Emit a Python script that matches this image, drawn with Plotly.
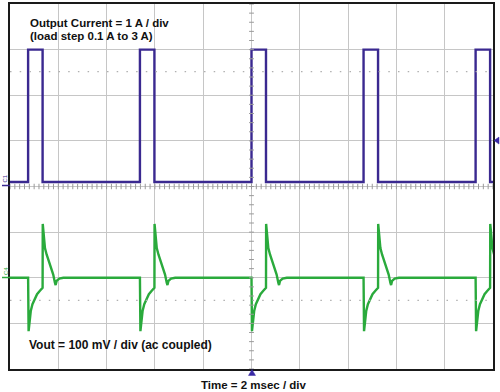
import plotly.graph_objects as go

# ---------------- data ----------------
# time axis: ms relative to trigger, 2 ms/div, 10 divisions
rise_ms = [-9.25, -4.62, 0.0, 4.64, 9.28]      # load step up (0.1 A -> 3 A)
fall_ms = [-8.65, -4.02, 0.60, 5.24, 9.88]     # load release (3 A -> 0.1 A)
i_low_a = 0.1
i_high_a = 3.0

# Vout transient after load step up: ms after rising edge, mV
step_up_dt = [0.0, 0.02, 0.07, 0.11, 0.18, 0.28, 0.37, 0.48, 0.58]
step_up_mv = [0, -117, -88, -73, -58, -45, -36, -29, -23]
# Vout transient after load release: ms after falling edge, mV
release_dt = [0.0, 0.006, 0.055, 0.097, 0.166, 0.235, 0.30, 0.373, 0.44, 0.51, 0.54, 0.58, 0.69, 0.86]
release_mv = [-22, 118, 80, 65, 51, 40, 33, 22, 7, -11, -16, -7, -2, 0]

# ---------------- build traces ----------------
t_cur, i_cur = [-10.0], [i_low_a]
for r, f in zip(rise_ms, fall_ms):
    t_cur += [r, r, f, f]
    i_cur += [i_low_a, i_high_a, i_high_a, i_low_a]
t_cur.append(10.0)
i_cur.append(i_low_a)

t_v, v_mv = [-10.0], [0]
for r, f in zip(rise_ms, fall_ms):
    for dt, mv in zip(step_up_dt, step_up_mv):
        t_v.append(r + dt)
        v_mv.append(mv)
    for dt, mv in zip(release_dt, release_mv):
        t_v.append(f + dt)
        v_mv.append(mv)

PURPLE = "#3a2990"
GREEN = "#2aaa3c"
GRID = "#c6c6c6"

fig = go.Figure()
fig.add_trace(go.Scatter(x=t_cur, y=i_cur, mode="lines",
                         line=dict(color=PURPLE, width=2.4), yaxis="y",
                         showlegend=False, hoverinfo="skip"))
fig.add_trace(go.Scatter(x=t_v, y=v_mv, mode="lines",
                         line=dict(color=GREEN, width=2.4), yaxis="y2",
                         showlegend=False, hoverinfo="skip"))

# pixel helpers for layout decorations (plot area: x 10..493, y 2..369)
L, R, T, B = 10, 493, 2, 369
def px(x):
    return (x - L) / (R - L)
def py(y):
    return (B - y) / (B - T)

shapes = []
# minor ticks on centre lines
k = -50
while k <= 50:
    xm = k * 0.2
    shapes.append(dict(type="line", xref="x", yref="y", x0=xm, x1=xm, y0=-0.06, y1=0.06,
                       line=dict(color="#9a9a9a", width=1)))
    k += 1
k = -20
while k <= 20:
    ym = k * 0.2
    shapes.append(dict(type="line", xref="x", yref="y", x0=-0.1, x1=0.1, y0=ym, y1=ym,
                       line=dict(color="#9a9a9a", width=1)))
    k += 1
# dotted cursor lines
for yy in (70, 300):
    shapes.append(dict(type="line", xref="paper", yref="paper", x0=0, x1=1, y0=py(yy), y1=py(yy),
                       line=dict(color="#b0b0b0", width=1.3, dash="1.5px,8.2px")))
# trigger markers
def tri(pts, color):
    d = "M " + " L ".join(f"{px(a):.5f},{py(b):.5f}" for a, b in pts) + " Z"
    return dict(type="path", xref="paper", yref="paper", path=d,
                fillcolor=color, line=dict(color=color, width=0.5))
shapes.append(tri([(252, 369.5), (248.5, 375.5), (255.5, 375.5)], "#3a2aa6"))
shapes.append(tri([(494, 139.3), (499, 135.8), (499, 142.8)], "#3a2aa6"))
# channel ground markers
shapes.append(dict(type="line", xref="paper", yref="paper", x0=px(2), x1=px(10), y0=py(184.5), y1=py(184.5),
                   line=dict(color=PURPLE, width=1.5)))
shapes.append(dict(type="line", xref="paper", yref="paper", x0=px(2), x1=px(10), y0=py(277), y1=py(277),
                   line=dict(color=GREEN, width=1.5)))

FONT = "Liberation Sans, Arial, sans-serif"
def ann(text, x, y, xanchor="left", size=11.5, color="#111111", angle=0):
    return dict(text=text, xref="paper", yref="paper", x=px(x), y=py(y),
                xanchor=xanchor, yanchor="middle", showarrow=False, textangle=angle,
                font=dict(family=FONT, size=size, color=color))

annotations = [
    ann("<b>Output Current = 1 A / div</b>", 28, 21.0),
    ann("<b>(load step 0.1 A to 3 A)</b>", 28, 34.5),
    ann("<b>Vout = 100 mV / div (ac coupled)</b>", 27, 345, size=12),
    ann("<b>Time = 2 msec / div</b>", 254, 385, xanchor="center"),
    ann("C1", 5.5, 178, xanchor="center", size=6, color=PURPLE, angle=-90),
    ann("C4", 5.5, 271, xanchor="center", size=6, color=GREEN, angle=-90),
]

fig.update_layout(
    width=500, height=392,
    margin=dict(l=L, r=500 - R, t=T, b=392 - B),
    paper_bgcolor="white", plot_bgcolor="white",
    xaxis=dict(range=[-10, 10], dtick=2, tick0=-10, showgrid=True, gridcolor=GRID, gridwidth=1,
               zeroline=False, showticklabels=False, ticks="",
               showline=True, mirror=True, linecolor="#1a1a1a", linewidth=1.5),
    yaxis=dict(range=[-4, 4], dtick=1, tick0=-4, showgrid=True, gridcolor=GRID, gridwidth=1,
               zeroline=False, showticklabels=False, ticks="",
               showline=True, mirror=True, linecolor="#1a1a1a", linewidth=1.5),
    yaxis2=dict(range=[-200, 600], overlaying="y", visible=False, showgrid=False, zeroline=False),
    shapes=shapes,
    annotations=annotations,
    showlegend=False,
)

fig.write_html("out.html",
               config={"displayModeBar": False},
               post_script="document.body.style.margin='0';document.body.style.overflow='hidden';")
